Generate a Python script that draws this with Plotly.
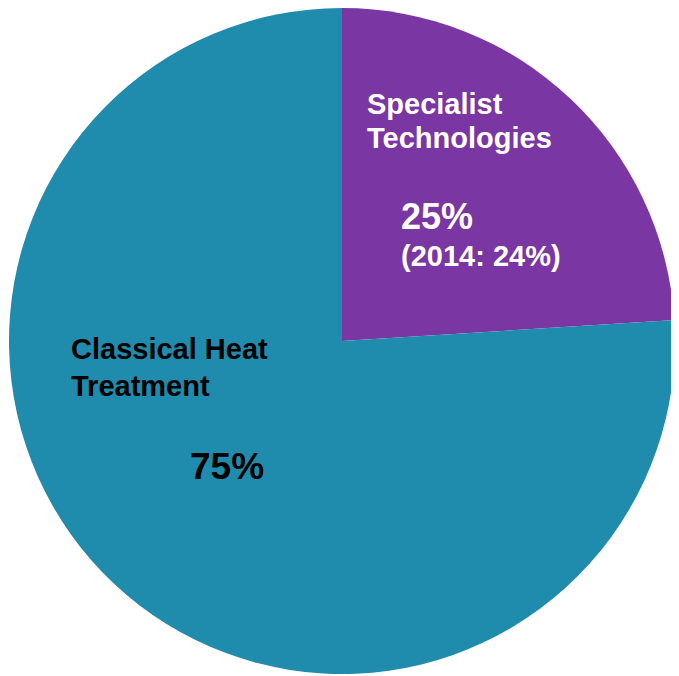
import plotly.graph_objects as go

segments = ["Specialist Technologies", "Classical Heat Treatment"]
slice_values = [24, 76]
share_labels = ["25%", "75%"]
prior_year_label = "(2014: 24%)"
colors = ["#7A36A3", "#1F8BAD"]

# page has an 8px body margin; keep the figure inside the viewport
W, H = 671, 668
OFF = 8

fig = go.Figure()
fig.add_trace(go.Pie(
    labels=segments,
    values=slice_values,
    sort=False,
    direction="clockwise",
    rotation=0,
    marker=dict(colors=colors, line=dict(width=0)),
    textinfo="none",
    hoverinfo="label+percent",
    showlegend=False,
    domain=dict(x=[1 / W, 667 / W], y=[2 / H, 1]),
))

def px(x):
    return (x - OFF - 2) / W

def py(y):
    return 1 - (y - OFF) / H

font_family = "Liberation Sans, Arial, sans-serif"
ann = [
    ("<b>Specialist</b>", 367, 104, 29, "white"),
    ("<b>Technologies</b>", 367, 138, 29, "white"),
    ("<b>" + share_labels[0] + "</b>", 401, 216, 36, "white"),
    ("<b>" + prior_year_label + "</b>", 401, 256, 29, "white"),
    ("<b>Classical Heat</b>", 71, 349, 29, "black"),
    ("<b>Treatment</b>", 71, 386, 29, "black"),
    ("<b>" + share_labels[1] + "</b>", 190, 466, 37, "black"),
]
for text, x, y, size, color in ann:
    fig.add_annotation(
        text=text, x=px(x), y=py(y), xref="paper", yref="paper",
        xanchor="left", yanchor="middle", showarrow=False,
        font=dict(family=font_family, size=size, color=color),
    )

fig.update_layout(
    width=W, height=H,
    margin=dict(l=0, r=0, t=0, b=0),
    paper_bgcolor="white",
    plot_bgcolor="white",
)

fig.write_html("out.html")
